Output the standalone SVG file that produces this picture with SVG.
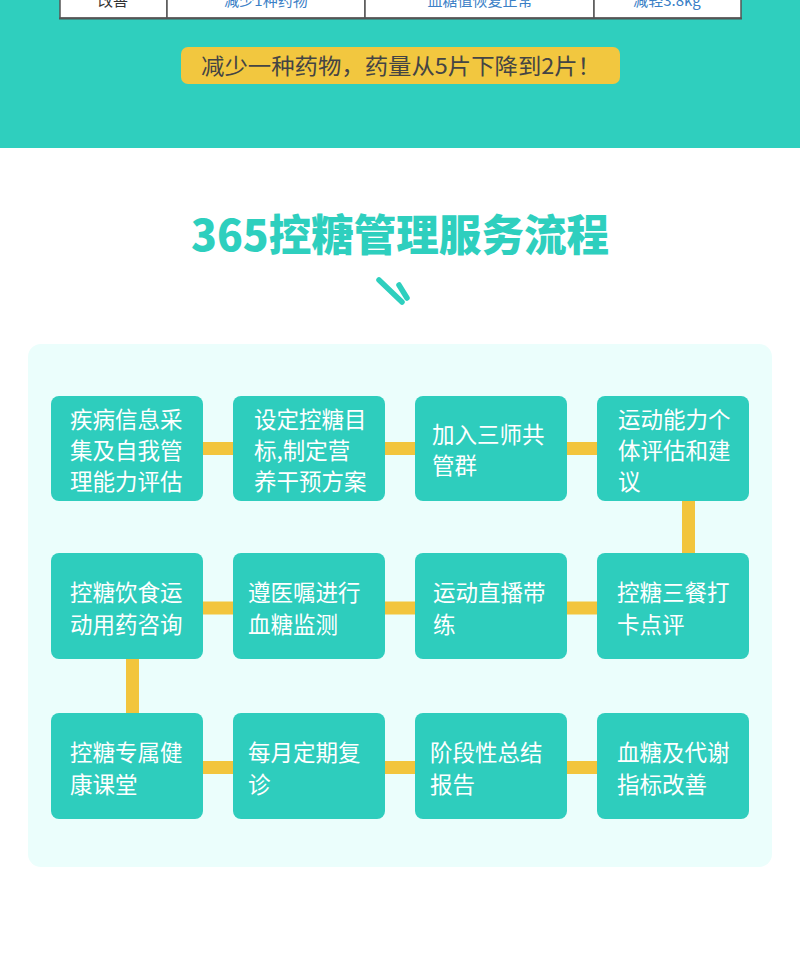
<svg xmlns="http://www.w3.org/2000/svg" width="800" height="973" viewBox="0 0 800 973">
<style>
.cjk{font-family:"Noto Sans CJK SC","Noto Sans",sans-serif}
.cell{fill:#ffffff;stroke:#555555;stroke-width:1.5}
.tt{font-size:15px;text-anchor:middle}
.node rect{fill:#2ecdbd}
.node text{fill:#ffffff;font-size:22.5px;font-family:"Noto Sans CJK SC","Noto Sans",sans-serif}
.conn line{stroke:#f2c53d;stroke-width:13}
</style>
<rect x="0" y="0" width="800" height="973" fill="#ffffff"/>
<rect x="0" y="0" width="800" height="148" fill="#2fcfbe"/>
<g id="table">
<rect class="cell" x="60" y="-10" width="107" height="28"/>
<rect class="cell" x="167" y="-10" width="198" height="28"/>
<rect class="cell" x="365" y="-10" width="229" height="28"/>
<rect class="cell" x="594" y="-10" width="147" height="28"/>
<line x1="59" y1="18.5" x2="742" y2="18.5" stroke="#555555" stroke-width="2"/>
<text class="cjk tt" x="113" y="6" fill="#333333">改善</text>
<text class="cjk tt" x="266" y="6" fill="#3a80c6">减少1种药物</text>
<text class="cjk tt" x="480" y="6" fill="#3a80c6">血糖值恢复正常</text>
<text class="cjk tt" x="667" y="6" fill="#3a80c6">减轻3.8kg</text>
</g>
<g id="banner">
<rect x="181" y="47" width="439" height="37" rx="7" fill="#f2c73f"/>
<text class="cjk" x="401" y="74" font-size="22" fill="#444444" text-anchor="middle" textLength="400" lengthAdjust="spacingAndGlyphs">减少一种药物，药量从5片下降到2片！</text>
</g>
<g id="title">
<text class="cjk" x="400" y="251" font-size="43" font-weight="900" fill="#2ecfbe" text-anchor="middle" textLength="418" lengthAdjust="spacingAndGlyphs">365控糖管理服务流程</text>
<line x1="379" y1="280" x2="402" y2="302" stroke="#2ecfbe" stroke-width="5.5" stroke-linecap="round"/>
<line x1="399" y1="285" x2="407" y2="298" stroke="#2ecfbe" stroke-width="5.5" stroke-linecap="round"/>
</g>
<rect id="panel" x="28" y="344" width="744" height="523" rx="13" fill="#ebfefc"/>
<g id="connectors" class="conn">
<line x1="200" y1="448.5" x2="236" y2="448.5"/>
<line x1="382" y1="448.5" x2="418" y2="448.5"/>
<line x1="564" y1="448.5" x2="600" y2="448.5"/>
<line x1="688.5" y1="498" x2="688.5" y2="556"/>
<line x1="200" y1="608" x2="236" y2="608"/>
<line x1="382" y1="608" x2="418" y2="608"/>
<line x1="564" y1="608" x2="600" y2="608"/>
<line x1="132.5" y1="656" x2="132.5" y2="716"/>
<line x1="200" y1="767.5" x2="236" y2="767.5"/>
<line x1="382" y1="767.5" x2="418" y2="767.5"/>
<line x1="564" y1="767.5" x2="600" y2="767.5"/>
</g>
<g id="n1" class="node"><rect x="51" y="396" width="152" height="105" rx="8"/>
<text x="70" y="428">疾病信息采</text><text x="70" y="459">集及自我管</text><text x="70" y="490">理能力评估</text></g>
<g id="n2" class="node"><rect x="233" y="396" width="152" height="105" rx="8"/>
<text x="254" y="428">设定控糖目</text><text x="254" y="459">标,制定营</text><text x="254" y="490">养干预方案</text></g>
<g id="n3" class="node"><rect x="415" y="396" width="152" height="105" rx="8"/>
<text x="432" y="443">加入三师共</text><text x="432" y="474">管群</text></g>
<g id="n4" class="node"><rect x="597" y="396" width="152" height="105" rx="8"/>
<text x="618" y="428">运动能力个</text><text x="618" y="459">体评估和建</text><text x="618" y="490">议</text></g>
<g id="n5" class="node"><rect x="51" y="553" width="152" height="106" rx="8"/>
<text x="70" y="601">控糖饮食运</text><text x="70" y="633">动用药咨询</text></g>
<g id="n6" class="node"><rect x="233" y="553" width="152" height="106" rx="8"/>
<text x="248" y="601">遵医嘱进行</text><text x="248" y="633">血糖监测</text></g>
<g id="n7" class="node"><rect x="415" y="553" width="152" height="106" rx="8"/>
<text x="433" y="601">运动直播带</text><text x="433" y="633">练</text></g>
<g id="n8" class="node"><rect x="597" y="553" width="152" height="106" rx="8"/>
<text x="617" y="601">控糖三餐打</text><text x="617" y="633">卡点评</text></g>
<g id="n9" class="node"><rect x="51" y="713" width="152" height="106" rx="8"/>
<text x="70" y="761">控糖专属健</text><text x="70" y="793">康课堂</text></g>
<g id="n10" class="node"><rect x="233" y="713" width="152" height="106" rx="8"/>
<text x="248" y="761">每月定期复</text><text x="248" y="793">诊</text></g>
<g id="n11" class="node"><rect x="415" y="713" width="152" height="106" rx="8"/>
<text x="430" y="761">阶段性总结</text><text x="430" y="793">报告</text></g>
<g id="n12" class="node"><rect x="597" y="713" width="152" height="106" rx="8"/>
<text x="617" y="761">血糖及代谢</text><text x="617" y="793">指标改善</text></g>
</svg>
